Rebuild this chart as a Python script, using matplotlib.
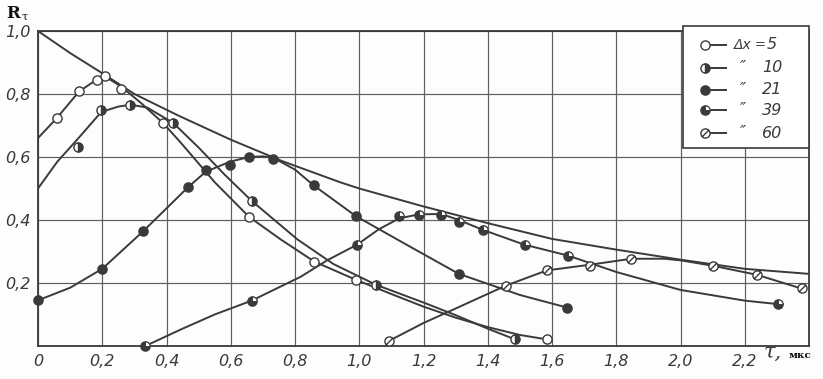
import numpy as np
import matplotlib
matplotlib.use("Agg")
import matplotlib.pyplot as plt
from matplotlib.path import Path
from matplotlib.patches import Rectangle

INK = "#3a3a3a"
GRID = "#5e5e5e"
BG = "#fdfdfd"

# ---- data (tau in us, R) ---------------------------------------------------
# upper envelope, no markers
env_x = [0.0, 0.1, 0.2, 0.3, 0.44, 0.6, 0.76, 0.94, 1.0, 1.2, 1.4, 1.6, 1.8, 2.0, 2.2, 2.4]
env_y = [1.0, 0.93, 0.866, 0.80, 0.73, 0.655, 0.587, 0.52, 0.50, 0.443, 0.39, 0.34, 0.306, 0.274, 0.245, 0.229]

# dx = 5
c5_x = [0.0, 0.058, 0.128, 0.183, 0.208, 0.257, 0.32, 0.39, 0.444, 0.55, 0.657, 0.756, 0.86, 0.99,
        1.1, 1.2, 1.3, 1.4, 1.5, 1.584]
c5_y = [0.66, 0.723, 0.808, 0.846, 0.856, 0.825, 0.772, 0.707, 0.646, 0.52, 0.41, 0.338, 0.268, 0.21,
        0.165, 0.125, 0.09, 0.06, 0.035, 0.021]
m5_x = [0.058, 0.128, 0.183, 0.208, 0.257, 0.39, 0.657, 0.86, 0.99, 1.584]
m5_y = [0.723, 0.808, 0.846, 0.856, 0.817, 0.707, 0.41, 0.268, 0.21, 0.021]

# dx = 10
c10_x = [0.0, 0.06, 0.126, 0.197, 0.25, 0.2875, 0.34, 0.421, 0.5, 0.58, 0.666, 0.808, 0.92, 1.053,
         1.2, 1.3, 1.4, 1.485]
c10_y = [0.50, 0.585, 0.66, 0.743, 0.76, 0.766, 0.757, 0.708, 0.63, 0.545, 0.46, 0.338, 0.26, 0.194,
         0.138, 0.098, 0.055, 0.021]
m10_x = [0.126, 0.197, 0.2875, 0.421, 0.666, 1.053, 1.485]
m10_y = [0.632, 0.748, 0.766, 0.708, 0.46, 0.194, 0.021]

# dx = 21
c21_x = [0.0, 0.1, 0.2, 0.327, 0.468, 0.522, 0.597, 0.657, 0.70, 0.733, 0.8, 0.858, 0.99, 1.15,
         1.31, 1.5, 1.647]
c21_y = [0.145, 0.185, 0.245, 0.364, 0.505, 0.553, 0.585, 0.60, 0.602, 0.597, 0.56, 0.51, 0.412, 0.32,
         0.229, 0.162, 0.122]
m21_x = [0.0, 0.2, 0.327, 0.468, 0.522, 0.597, 0.657, 0.733, 0.858, 0.99, 1.31, 1.647]
m21_y = [0.145, 0.245, 0.364, 0.505, 0.56, 0.576, 0.60, 0.595, 0.51, 0.412, 0.229, 0.122]

# dx = 39
c39_x = [0.334, 0.45, 0.55, 0.665, 0.818, 0.9, 0.994, 1.06, 1.124, 1.186, 1.256, 1.31, 1.384, 1.513,
         1.65, 1.8, 2.0, 2.2, 2.303]
c39_y = [0.0, 0.055, 0.10, 0.144, 0.22, 0.272, 0.322, 0.37, 0.405, 0.418, 0.419, 0.40, 0.369, 0.322,
         0.287, 0.235, 0.178, 0.144, 0.133]
m39_x = [0.334, 0.665, 0.994, 1.124, 1.186, 1.256, 1.31, 1.384, 1.517, 1.65, 2.303]
m39_y = [0.0, 0.144, 0.322, 0.412, 0.417, 0.417, 0.395, 0.369, 0.322, 0.287, 0.133]

# dx = 60
c60_x = [1.092, 1.2, 1.3, 1.457, 1.584, 1.718, 1.847, 1.95, 2.0, 2.1, 2.238, 2.378]
c60_y = [0.016, 0.073, 0.119, 0.192, 0.24, 0.258, 0.277, 0.277, 0.272, 0.255, 0.226, 0.182]
m60_x = [1.092, 1.457, 1.584, 1.718, 1.847, 2.1, 2.238, 2.378]
m60_y = [0.016, 0.191, 0.24, 0.255, 0.277, 0.254, 0.225, 0.183]

x_ticks = [0.0, 0.2, 0.4, 0.6, 0.8, 1.0, 1.2, 1.4, 1.6, 1.8, 2.0, 2.2, 2.4]
x_labels = ["0", "0,2", "0,4", "0,6", "0,8", "1,0", "1,2", "1,4", "1,6", "1,8", "2,0", "2,2", ""]
y_ticks = [0.0, 0.2, 0.4, 0.6, 0.8, 1.0]
y_labels = ["", "0,2", "0,4", "0,6", "0,8", "1,0"]

legend_nums = ["5", "10", "21", "39", "60"]

# ---- markers ---------------------------------------------------------------
SLASHED = Path.make_compound_path(Path.unit_circle(),
                                  Path([(-0.72, -0.72), (0.72, 0.72)]))
WEDGE = Path.wedge(0, 90)
MS = 6.6


def mk(series):
    base = dict(ls="none", ms=MS, mec=INK, mew=1.0, zorder=4)
    if series == "5":
        return [dict(base, marker="o", mfc="white")]
    if series == "10":
        return [dict(base, marker="o", fillstyle="right", mfc=INK, markerfacecoloralt="white")]
    if series == "21":
        return [dict(base, marker="o", mfc=INK)]
    if series == "39":
        return [dict(base, marker="o", mfc=INK),
                dict(base, marker=WEDGE, mfc="white", mew=0.7, zorder=5)]
    return [dict(base, marker=SLASHED, mfc="white")]


fig = plt.figure(figsize=(8.23, 3.79), dpi=100)
fig.patch.set_facecolor(BG)
ax = fig.add_axes([38 / 823, 1 - 346 / 379, 771 / 823, 315 / 379])
ax.set_facecolor(BG)
ax.set_xlim(0, 2.4)
ax.set_ylim(0, 1.0)

ax.set_xticks(x_ticks)
ax.set_xticklabels(x_labels)
ax.set_yticks(y_ticks)
ax.set_yticklabels(y_labels)
ax.tick_params(length=0, labelsize=11.5, colors=INK)
ax.tick_params(axis="x", pad=6)
ax.tick_params(axis="y", pad=5)
for lab in ax.get_xticklabels() + ax.get_yticklabels():
    lab.set_fontstyle("italic")
ax.grid(True, color=GRID, lw=0.85)
ax.set_axisbelow(True)
for s in ax.spines.values():
    s.set_color(INK)
    s.set_linewidth(1.3)

ax.plot(env_x, env_y, color=INK, lw=1.4, zorder=3)
series = [("5", c5_x, c5_y, m5_x, m5_y), ("10", c10_x, c10_y, m10_x, m10_y),
          ("21", c21_x, c21_y, m21_x, m21_y), ("39", c39_x, c39_y, m39_x, m39_y),
          ("60", c60_x, c60_y, m60_x, m60_y)]
for name, cx, cy, mx, my in series:
    ax.plot(cx, cy, color=INK, lw=1.4, zorder=3)
    for kw in mk(name):
        ax.plot(mx, my, clip_on=False, **kw)

# ---- legend box ------------------------------------------------------------
T = ax.transAxes
ax.add_patch(Rectangle((0.8366, 0.629), 0.1634, 0.387, transform=T, facecolor="white",
                       edgecolor=INK, lw=1.2, zorder=6, clip_on=False))
rows = [0.956, 0.883, 0.813, 0.749, 0.676]
for i, (name, yy) in enumerate(zip(legend_nums, rows)):
    ax.plot([0.865, 0.892], [yy, yy], transform=T, color=INK, lw=1.4, zorder=7, clip_on=False)
    for kw in mk(name):
        kw = dict(kw, zorder=kw["zorder"] + 4)
        ax.plot([0.865], [yy], transform=T, clip_on=False, **kw)
    if i == 0:
        ax.text(0.902, yy, "Δx", transform=T, ha="left", va="center", fontsize=10,
                style="italic", color=INK, zorder=8)
        ax.text(0.936, yy, "=", transform=T, ha="center", va="center", fontsize=9.5,
                color=INK, zorder=8)
    else:
        ax.text(0.9144, yy, "″", transform=T, ha="center", va="center", fontsize=12,
                style="italic", color=INK, zorder=8)
    ax.text(0.952, yy, name, transform=T, ha="center", va="center", fontsize=11.5,
            style="italic", color=INK, zorder=8)

# ---- axis captions ---------------------------------------------------------
fig.text(6 / 823, 1 - 13 / 379, "R", fontsize=12, fontweight="bold", family="DejaVu Serif",
         ha="left", va="center", color="#111")
fig.text(21 / 823, 1 - 17 / 379, "τ", fontsize=8, family="DejaVu Serif", ha="left",
         va="center", color="#111")
fig.text(764 / 823, 1 - 352 / 379, "τ,", fontsize=15, style="italic", family="DejaVu Serif",
         ha="left", va="center", color=INK)
fig.text(789 / 823, 1 - 356 / 379, "мкс", fontsize=7.5, fontweight="bold",
         family="DejaVu Serif", ha="left", va="center", color="#111")

fig.savefig("out.png", dpi=100, facecolor=BG)
